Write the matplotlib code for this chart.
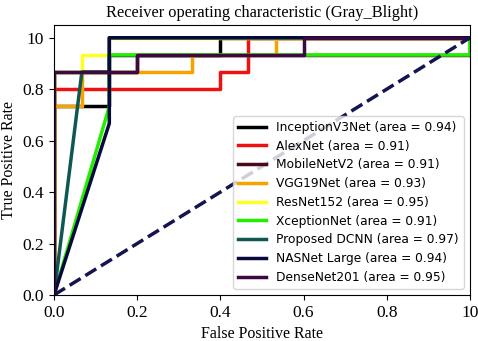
import numpy as np
import matplotlib
matplotlib.use('Agg')
import matplotlib.pyplot as plt

# ROC curves (fpr, tpr)
names = ['InceptionV3Net', 'AlexNet', 'MobileNetV2', 'VGG19Net', 'ResNet152',
         'XceptionNet', 'Proposed DCNN', 'NASNet Large', 'DenseNet201']
areas = [0.94, 0.91, 0.91, 0.93, 0.95, 0.91, 0.97, 0.94, 0.95]
colors = ['#000000', '#ee1111', '#4a0a1e', '#f5a300', '#ffff22',
          '#22ee00', '#0e5752', '#060a3c', '#3a0a40']

fpr_list = [
    [0, 0, 0.133, 0.133, 0.4, 0.4, 1],
    [0, 0, 0.4, 0.4, 0.467, 0.467, 1],
    [0, 0, 0.2, 0.2, 1, 1],
    [0, 0, 0.067, 0.067, 0.333, 0.333, 0.533, 0.533, 1],
    [0, 0, 0.067, 0.067, 0.133, 0.133, 1],
    [0, 0.133, 0.133, 1, 1],
    [0, 0.067, 0.133, 0.133, 1],
    [0, 0.133, 0.133, 1],
    [0, 0, 0.2, 0.2, 0.6, 0.6, 1],
]
tpr_list = [
    [0, 0.733, 0.733, 0.933, 0.933, 1, 1],
    [0, 0.8, 0.8, 0.867, 0.867, 1, 1],
    [0, 0.867, 0.867, 0.933, 0.933, 1],
    [0, 0.733, 0.733, 0.867, 0.867, 0.933, 0.933, 1, 1],
    [0, 0.867, 0.867, 0.933, 0.933, 1, 1],
    [0, 0.733, 0.933, 0.933, 1],
    [0, 0.867, 0.867, 1, 1],
    [0, 0.667, 1, 1],
    [0, 0.867, 0.867, 0.933, 0.933, 1, 1],
]

tick_vals = [0.0, 0.2, 0.4, 0.6, 0.8, 1.0]
tick_labels = ['0.0', '0.2', '0.4', '0.6', '0.8', '10']

serif = 'Liberation Serif'

fig = plt.figure(figsize=(4.78, 3.41), dpi=100)
ax = fig.add_axes([0.113, 0.135, 0.870, 0.792])

for i in range(len(names)):
    ax.plot(fpr_list[i], tpr_list[i], color=colors[i], lw=2.5,
            label='%s (area = %.2f)' % (names[i], areas[i]))
ax.plot([0, 1], [0, 1], color='#141450', lw=2.5, linestyle='--')

ax.set_xlim(0.0, 1.0)
ax.set_ylim(0.0, 1.05)
ax.set_xticks(tick_vals)
ax.set_xticklabels(tick_labels, fontfamily=serif, fontsize=12.5)
ax.set_yticks(tick_vals)
ax.set_yticklabels(tick_labels, fontfamily=serif, fontsize=12.5)
ax.set_xlabel('False Positive Rate', fontfamily=serif, fontsize=11.5)
ax.set_ylabel('True Positive Rate', fontfamily=serif, fontsize=11.5)
ax.set_title('Receiver operating characteristic (Gray_Blight)',
             fontfamily=serif, fontsize=11.8)
ax.legend(loc='lower right', prop={'family': 'DejaVu Sans', 'size': 8.8},
          labelspacing=0.47, handlelength=2.3)

fig.savefig('out.png', dpi=100)
